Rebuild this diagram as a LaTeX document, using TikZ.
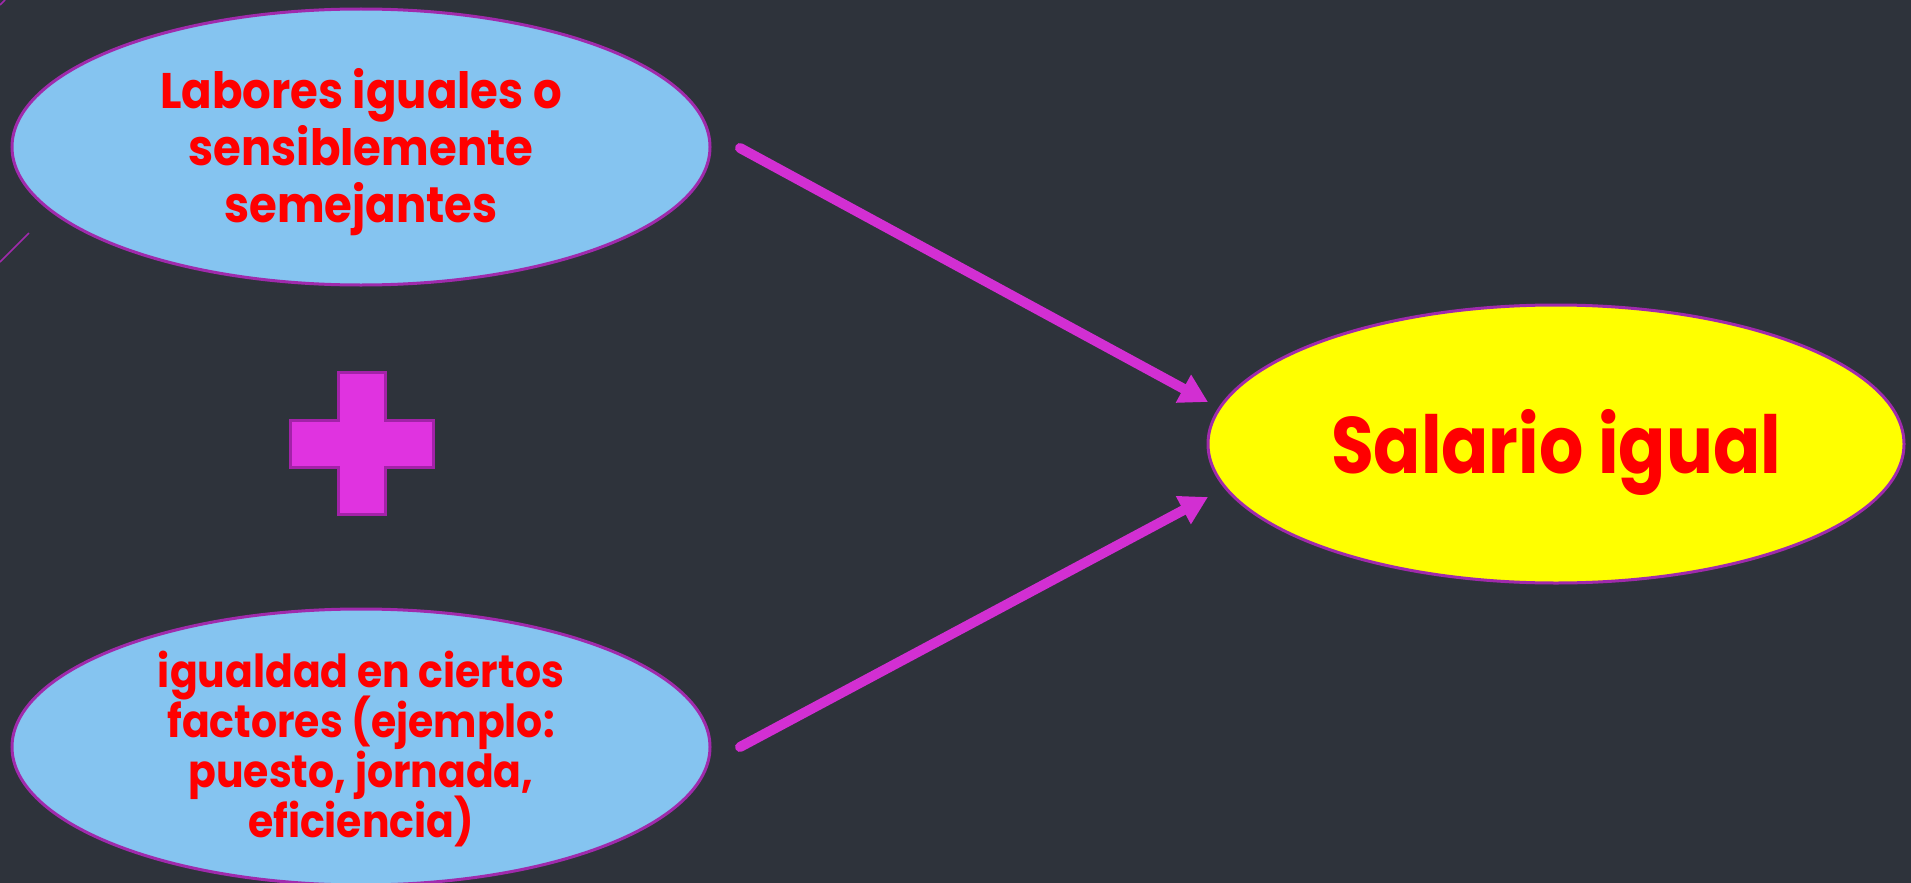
\documentclass[tikz,border=0pt]{standalone}
\usepackage{fontspec}
\newfontfamily\labelfont{Poppins}[FakeStretch=0.9]
\newfontfamily\bigfont{Poppins}[FakeStretch=0.87]
\usetikzlibrary{shapes.geometric,arrows.meta}
\definecolor{bgc}{HTML}{2E333B}
\definecolor{skyb}{HTML}{85C4F0}
\definecolor{rim}{HTML}{A02AAC}
\definecolor{arrowc}{HTML}{D22FD2}
\definecolor{plusfill}{HTML}{E033E0}
\definecolor{plusrim}{HTML}{A322A8}
\definecolor{txtred}{HTML}{FF0000}
\definecolor{yel}{HTML}{FFFF00}
% centred lines with exact baseline spacing; #3 = last baseline below node centre
\newcommand\ovallines[3]{\raisebox{-#3}[0pt][0pt]{\vbox{\lineskiplimit=-1000pt\baselineskip=#1\halign{\hfil##\hfil\cr#2\cr}}}}
\tikzset{
  oval/.style={ellipse, draw=rim, line width=3pt, inner sep=0pt, text=txtred},
  link/.style={draw=arrowc, line width=10pt, line cap=round,
    -{Triangle[length=28pt,width=30pt]}},
  stray/.style={draw=rim, line width=1.5pt}
}
\begin{document}
\begin{tikzpicture}[x=1pt,y=-1pt]
\fill[bgc] (0,0) rectangle (1911,883);
\useasboundingbox (0,0) rectangle (1911,883);
\clip (0,0) rectangle (1911,883);
% stray marks
\draw[stray] (0,262) -- (29,233);
\draw[stray] (0,5) -- (5,0);
% ovals
\node[oval, fill=skyb, minimum width=698pt, minimum height=276pt,
  font=\labelfont\bfseries\fontsize{50}{57}\selectfont] (lab) at (361,147)
  {\ovallines{57pt}{Labores iguales o\cr sensiblemente\cr semejantes}{75pt}};
\node[oval, fill=skyb, minimum width=698pt, minimum height=276pt,
  font=\labelfont\bfseries\fontsize{45.5}{50}\selectfont] (fac) at (361,747)
  {\ovallines{50pt}{igualdad en ciertos\cr factores (ejemplo:\cr puesto, jornada,\cr eficiencia)}{90pt}};
\node[oval, fill=yel, minimum width=696pt, minimum height=278pt,
  font=\bigfont\bfseries\fontsize{80}{90}\selectfont] (sal) at (1556,444)
  {\raisebox{-29pt}[0pt][0pt]{Salario igual}};
% plus sign
\draw[fill=plusfill, draw=plusrim, line width=3pt]
  (338,372) -- (385,372) -- (385,420) -- (433,420) -- (433,467) -- (385,467)
  -- (385,514) -- (338,514) -- (338,467) -- (290,467) -- (290,420) -- (338,420) -- cycle;
% connectors
\coordinate (labout) at (740,148);
\coordinate (facout) at (740,747);
\coordinate (salin1) at (1208,402);
\coordinate (salin2) at (1208,497);
\draw[link] (labout) -- (salin1);
\draw[link] (facout) -- (salin2);
\end{tikzpicture}
\end{document}
